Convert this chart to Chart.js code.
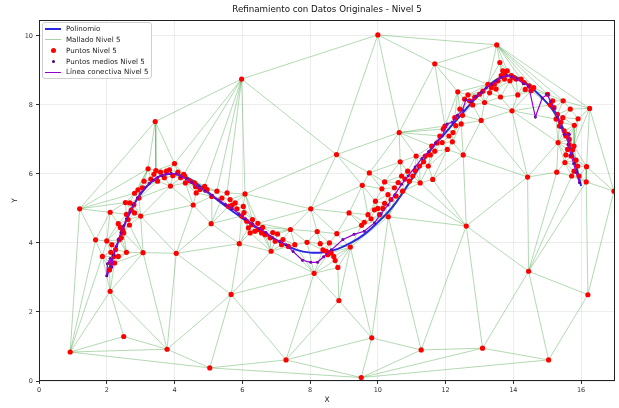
<!DOCTYPE html>
<html><head><meta charset="utf-8">
<script src="https://cdn.jsdelivr.net/npm/chart.js@4.4.1/dist/chart.umd.min.js"></script>
<style>
html,body{margin:0;padding:0;background:#fff;}
#wrap{position:relative;width:619px;height:408px;}
#legend{position:absolute;left:42px;top:22px;width:110px;height:57px;border:1px solid #cfcfcf;border-radius:3px;background:rgba(255,255,255,0.85);font:7.1px 'DejaVu Sans',sans-serif;color:#222;box-sizing:border-box;}
.row{position:absolute;left:0;height:10px;width:100%;}
.h{position:absolute;left:2px;top:0;width:16px;height:10px;}
.t{position:absolute;left:23px;top:0;line-height:10px;white-space:nowrap;}
.ln{position:absolute;left:0;width:16px;}
.dot{position:absolute;border-radius:50%;}
</style></head><body>
<div id="wrap">
<canvas id="c" width="619" height="408"></canvas>
<div id="legend">
 <div class="row" style="top:0.5px"><span class="h"><span class="ln" style="top:4px;height:2px;background:rgb(40,40,230)"></span></span><span class="t">Polinomio</span></div>
 <div class="row" style="top:11.5px"><span class="h"><span class="ln" style="top:4.5px;height:1px;background:rgba(0,128,0,0.35)"></span></span><span class="t">Mallado Nivel 5</span></div>
 <div class="row" style="top:22.5px"><span class="h"><span class="dot" style="left:5.5px;top:2.5px;width:5px;height:5px;background:#ff0000"></span></span><span class="t">Puntos Nivel 5</span></div>
 <div class="row" style="top:33.5px"><span class="h"><span class="dot" style="left:6.5px;top:3.5px;width:3px;height:3px;background:#4b0082"></span></span><span class="t">Puntos medios Nivel 5</span></div>
 <div class="row" style="top:44.2px"><span class="h"><span class="ln" style="top:4.5px;height:1.3px;background:#9400d3"></span></span><span class="t">Línea conectiva Nivel 5</span></div>
</div>
</div>
<script>
// ---- Data ----
const polyX = [2.0,2.2,2.4,2.6,2.8,3.0,3.3,3.6,4.0,4.4,4.8,5.2,5.6,6.0,6.4,6.8,7.2,7.6,8.0,8.4,8.8,9.2,9.6,10.0,10.4,10.8,11.2,11.6,12.0,12.4,12.8,13.2,13.6,13.9,14.2,14.6,15.0,15.3,15.6,15.8,16.0];
const polyY = [3.03,3.65,4.2,4.7,5.1,5.42,5.75,5.95,6.0,5.88,5.62,5.3,5.0,4.72,4.45,4.2,3.98,3.8,3.72,3.73,3.82,4.0,4.25,4.6,5.0,5.55,6.15,6.75,7.2,7.65,8.1,8.5,8.78,8.85,8.75,8.45,8.05,7.65,7.0,6.4,5.65];

const puntosX = [0.92,1.2,3.43,5.98,10.0,13.51,11.68,13.6,16.25,16.97,16.2,15.04,13.09,11.28,9.51,7.29,5.04,3.78,2.5,2.1,5.67,4.05,3.07,8.85,9.82,8.12,8.78,12.61,14.45,14.42,15.28,16.16,16.15,10.63,10.66,9.75,9.54,11.62,12.52,13.05,13.96,8.02,9.15,7.42,8.21,5.91,6.85,8.82,1.67,2.1,3.0,4.55,5.08,6.08,5.55,1.87,2.58,3.22,4.0,9.93,10.2,10.12,10.7,14.13,13.62,15.8,15.68,15.47,15.91,12.36,12.2,12.05,9.19,8.79,9.52,8.74,2.0,3.88,6.46,15.52,15.32,
2.34,2.5,2.12,2.34,2.23,2.08,2.26,2.43,2.63,2.58,2.82,2.68,2.8,2.55,2.82,2.92,3.1,3.39,3.59,3.76,4.18,4.32,4.27,4.62,4.64,4.96,5.25,5.64,5.79,5.6,5.84,5.98,6.13,6.28,6.47,6.57,3.7,3.5,2.67,2.47,2.21,2.12,2.37,4.3,4.59,4.89,
6.03,6.18,6.23,6.37,6.67,6.82,7.04,6.97,7.16,7.36,7.91,8.3,8.57,8.38,8.48,8.62,8.52,8.7,9.71,9.9,10.05,10.15,10.2,10.31,
10.49,10.54,10.88,11.03,11.13,11.23,11.25,10.93,10.73,10.39,
11.4,11.59,11.68,11.49,11.83,11.93,11.98,11.9,12.22,12.27,12.42,12.46,12.56,12.71,12.66,12.86,13.0,13.15,13.25,13.35,13.49,13.44,13.69,13.82,13.64,13.74,13.94,14.08,14.23,14.32,14.47,14.52,15.01,15.16,15.2,15.3,15.26,15.46,15.36,15.5,15.6,15.65,15.79,15.6,15.7,15.9,15.79,15.94,15.72,
2.15,2.4,2.72,2.95,3.05,3.3,3.45,3.85,3.95,4.1,4.45,4.75,5.1,5.4,5.7,6.05,6.3,6.6,6.9,7.2,7.55,
9.6,9.8,10.0,10.3,10.6,10.8,11.1,11.35,11.55,11.75,12.1,12.3,12.5,12.8,13.1,13.3,13.55,13.75,13.9,14.0,14.35,14.6,15.1,15.4,15.55,15.65,15.75,15.85,15.55];
const puntosY = [0.84,4.99,7.52,8.75,10.03,9.74,9.19,9.23,7.9,5.5,2.5,0.61,0.95,0.9,0.1,0.61,0.38,0.92,1.29,2.6,2.51,3.7,3.72,2.33,1.25,3.12,6.56,4.49,3.18,5.91,6.05,6.21,5.77,7.2,6.35,6.03,5.67,5.84,6.55,7.55,7.83,4.99,4.87,4.39,4.33,3.98,3.76,3.29,4.09,4.89,4.78,5.1,4.56,5.42,5.45,3.61,3.73,6.15,6.3,5.21,5.77,5.57,5.94,8.29,8.23,7.41,7.88,8.12,7.6,8.38,6.93,6.71,3.88,4.27,4.51,3.49,4.06,5.65,4.57,6.33,6.91,
4.56,4.29,3.73,3.61,3.42,3.22,3.81,4.15,4.68,4.83,4.87,5.16,5.11,5.17,5.44,5.54,5.79,5.99,6.05,6.08,5.89,5.74,5.99,5.63,5.45,5.55,5.5,5.26,5.16,5.06,4.99,4.78,4.63,4.53,4.39,4.29,5.89,5.79,4.52,4.38,3.61,3.42,4.09,5.94,5.74,5.64,
5.06,4.44,4.29,4.34,4.24,4.15,4.26,4.05,3.95,3.9,4.02,3.98,4.0,3.8,3.76,3.71,3.66,3.61,4.82,4.96,4.82,5.0,5.15,4.76,
5.6,5.36,6.08,5.94,6.52,6.23,5.74,5.79,5.5,5.26,
6.52,6.81,6.66,6.23,7.1,7.3,7.39,6.91,7.2,7.63,7.88,7.45,8.17,8.12,8.29,8.22,8.31,8.07,8.6,8.5,8.46,8.6,8.99,8.99,8.85,8.75,8.85,8.75,8.75,8.65,8.55,8.41,8.31,8.12,7.92,7.73,7.59,7.63,7.39,7.25,7.15,7.0,6.81,6.71,6.52,6.23,6.08,5.94,5.94,
3.95,4.45,4.95,5.3,5.6,5.85,6.1,6.12,5.95,6.05,5.8,5.55,5.35,5.3,5.1,4.88,4.68,4.45,4.3,4.1,3.95,
4.6,4.7,5.0,5.4,5.75,5.85,6.1,6.35,6.55,6.9,7.1,7.4,7.7,8.0,8.4,8.35,8.7,8.9,8.7,8.8,8.45,8.5,8.0,7.5,7.1,6.85,6.7,6.4,6.55];

const mediosX = [2.0,2.02,2.1,2.15,2.2,2.28,2.35,2.42,2.5,2.58,2.68,2.78,2.9,3.0,3.12,3.25,3.38,3.5,3.62,3.75,3.9,4.05,4.2,4.35,4.5,4.7,4.9,5.1,5.3,5.5,5.7,5.9,6.1,6.3,6.5,6.7,6.9,7.1,7.3,7.5,7.78,8.02,8.22,8.4,8.63,8.97,9.3,9.6,9.9,10.1,10.3,10.5,10.7,10.9,11.1,11.3,11.5,11.7,11.9,12.05,12.2,12.35,12.5,12.6,12.75,12.9,13.05,13.2,13.35,13.5,13.65,13.8,13.95,14.1,14.3,14.45,14.65,14.85,15.0,15.1,15.2,15.3,15.4,15.5,15.65,15.62,15.7,15.78,15.85,15.95];
const mediosY = [3.05,3.4,3.55,3.3,3.65,3.9,4.1,4.3,4.5,4.7,4.9,5.1,5.3,5.45,5.6,5.72,5.82,5.9,5.95,6.0,6.02,6.0,5.92,5.85,5.75,5.62,5.5,5.38,5.25,5.12,5.0,4.85,4.7,4.55,4.42,4.3,4.15,4.05,3.95,3.75,3.5,3.44,3.44,3.6,3.8,4.1,4.25,4.34,4.58,4.85,5.1,5.4,5.7,5.95,6.2,6.45,6.65,6.9,7.1,7.45,7.5,7.7,7.85,8.15,8.1,8.25,8.35,8.5,8.6,8.7,8.8,8.85,8.82,8.75,8.62,8.55,7.65,8.2,8.3,8.1,7.9,7.65,7.35,7.15,7.15,6.85,6.55,6.3,6.05,5.75];

const xTickStep = 2, yTickStep = 2;

// ---- Delaunay mesh (Bowyer-Watson) built from the points ----
function delaunayEdges(px, py){
  const n = px.length;
  let minX=Infinity,maxX=-Infinity,minY=Infinity,maxY=-Infinity;
  for(let i=0;i<n;i++){minX=Math.min(minX,px[i]);maxX=Math.max(maxX,px[i]);minY=Math.min(minY,py[i]);maxY=Math.max(maxY,py[i]);}
  const d=Math.max(maxX-minX,maxY-minY)*50, mx=(minX+maxX)/2, my=(minY+maxY)/2;
  const X=px.slice(), Y=py.slice();
  X.push(mx-d,mx,mx+d); Y.push(my-d,my+d,my-d);
  function mk(a,b,c){
    const ax=X[a],ay=Y[a],bx=X[b],by=Y[b],cx=X[c],cy=Y[c];
    const D=2*(ax*(by-cy)+bx*(cy-ay)+cx*(ay-by));
    const a2=ax*ax+ay*ay,b2=bx*bx+by*by,c2=cx*cx+cy*cy;
    const ux=(a2*(by-cy)+b2*(cy-ay)+c2*(ay-by))/D;
    const uy=(a2*(cx-bx)+b2*(ax-cx)+c2*(bx-ax))/D;
    return {a,b,c,cx:ux,cy:uy,r2:(ax-ux)*(ax-ux)+(ay-uy)*(ay-uy)};
  }
  let tris=[mk(n,n+1,n+2)];
  for(let i=0;i<n;i++){
    const bad=[],keep=[];
    for(const t of tris){const ex=X[i]-t.cx,ey=Y[i]-t.cy; if(ex*ex+ey*ey<t.r2) bad.push(t); else keep.push(t);}
    const cnt=new Map();
    for(const t of bad){
      for(const [a,b] of [[t.a,t.b],[t.b,t.c],[t.c,t.a]]){
        const k=a<b?a+','+b:b+','+a; cnt.set(k,(cnt.get(k)||0)+1);
      }
    }
    tris=keep;
    for(const [k,c] of cnt){ if(c===1){const [a,b]=k.split(',').map(Number); tris.push(mk(a,b,i));} }
  }
  const edges=new Set();
  for(const t of tris){
    if(t.a>=n||t.b>=n||t.c>=n) continue;
    for(const [a,b] of [[t.a,t.b],[t.b,t.c],[t.c,t.a]]) edges.add(a<b?a+','+b:b+','+a);
  }
  const out=[];
  for(const k of edges){const [a,b]=k.split(',').map(Number); out.push({x:X[a],y:Y[a]},{x:X[b],y:Y[b]},{x:X[b],y:null});}
  return out;
}

const meshData = delaunayEdges(puntosX, puntosY);
const toXY = (xs, ys) => xs.map((x,i)=>({x, y: ys[i]}));

Chart.defaults.font.family = "'DejaVu Sans', sans-serif";
Chart.defaults.color = '#333';

const frame = {
  id:'frame',
  afterDraw(chart){
    const a=chart.chartArea, ctx=chart.ctx;
    ctx.save(); ctx.strokeStyle='#222'; ctx.lineWidth=1;
    ctx.strokeRect(Math.round(a.left)+0.5, Math.round(a.top)+0.5, Math.round(a.right-a.left)-1, Math.round(a.bottom-a.top)-1);
    ctx.restore();
  }
};

new Chart(document.getElementById('c'), {
  type:'scatter',
  data:{datasets:[
    {label:'Polinomio', data:toXY(polyX,polyY), showLine:true, borderColor:'rgb(40,40,230)', borderWidth:2, pointRadius:0, tension:0.4, order:5},
    {label:'Mallado Nivel 5', data:meshData, showLine:true, spanGaps:false, borderColor:'rgba(0,128,0,0.3)', borderWidth:1, pointRadius:0, order:4},
    {label:'Puntos Nivel 5', data:toXY(puntosX,puntosY), backgroundColor:'#ff0000', borderWidth:0, pointRadius:2.6, order:3},
    {label:'Puntos medios Nivel 5', data:toXY(mediosX,mediosY), backgroundColor:'#4b0082', borderWidth:0, pointRadius:1.5, order:2},
    {label:'Línea conectiva Nivel 5', data:toXY(mediosX,mediosY), showLine:true, borderColor:'#9400d3', borderWidth:1.2, pointRadius:0, order:1}
  ]},
  options:{
    responsive:false, animation:false, devicePixelRatio:1,
    layout:{padding:{left:0,right:2,top:0,bottom:0}},
    plugins:{
      legend:{display:false}, tooltip:{enabled:false},
      title:{display:true, fullSize:false, text:'Refinamiento con Datos Originales - Nivel 5', font:{size:8.7, weight:'normal'}, color:'#111', padding:{top:5,bottom:4.6}}
    },
    scales:{
      x:{type:'linear', min:0, max:17,
        ticks:{stepSize:xTickStep, includeBounds:false, font:{size:6.5}, color:'#333', padding:2, maxRotation:0},
        grid:{color:'rgba(0,0,0,0.07)', tickColor:'#333', tickLength:3},
        border:{display:false},
        title:{display:true, text:'X', font:{size:7.5}, color:'#222', padding:{top:0,bottom:3.8}},
        afterFit:s=>{s.height=27;}
      },
      y:{type:'linear', min:0, max:10.46,
        ticks:{stepSize:yTickStep, includeBounds:false, font:{size:6.5}, color:'#333', padding:3},
        grid:{color:'rgba(0,0,0,0.07)', tickColor:'#333', tickLength:3},
        border:{display:false},
        title:{display:true, text:'Y', font:{size:7.5}, color:'#222', padding:{top:10.5,bottom:0}},
        afterFit:s=>{s.width=39;}
      }
    }
  },
  plugins:[frame]
});
</script>
</body></html>
